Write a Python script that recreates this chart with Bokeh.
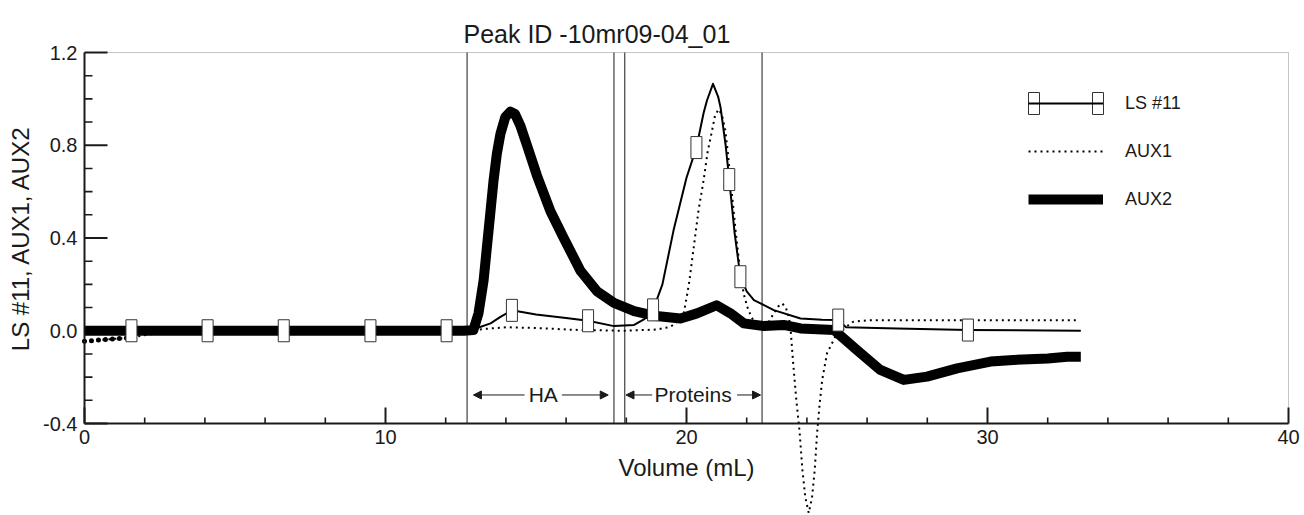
from bokeh.plotting import figure
from bokeh.models import (ColumnDataSource, CDSView, IndexFilter, FixedTicker, PrintfTickFormatter,
                          Arrow, NormalHead, Label, Legend, LegendItem, BoxAnnotation)
from bokeh.embed import file_html
from bokeh.resources import INLINE

# ---------------- data ----------------
title_text = "Peak ID -10mr09-04_01"
x_label = "Volume (mL)"
y_label = "LS #11, AUX1, AUX2"

x_limits = (0, 40)
y_limits = (-0.4, 1.2)
x_major = [0, 10, 20, 30, 40]
x_minor = [2, 4, 6, 8, 12, 14, 16, 18, 22, 24, 26, 28, 32, 34, 36, 38]
y_major = [-0.4, 0.0, 0.4, 0.8, 1.2]
y_minor = [-0.3, -0.2, -0.1, 0.1, 0.2, 0.3, 0.5, 0.6, 0.7, 0.9, 1.0, 1.1]

# LS #11 (thin line with box markers)
ls_x = [0.0, 12.7, 13.0, 13.49, 13.82, 14.2, 15.0, 16.0, 16.73, 17.59, 18.26, 18.6, 18.89, 19.2,
        19.57, 20.0, 20.33, 20.57, 20.68, 20.88, 21.05, 21.13, 21.3, 21.42, 21.6, 21.79, 22.0,
        22.24, 22.9, 23.79, 24.5, 25.04, 25.3, 27.0, 29.35, 33.1]
ls_y = [0.0, 0.0, 0.01, 0.032, 0.06, 0.088, 0.07, 0.055, 0.043, 0.02, 0.025, 0.05, 0.09, 0.2,
        0.433, 0.66, 0.79, 0.94, 0.993, 1.065, 1.01, 0.964, 0.8, 0.652, 0.42, 0.233, 0.17,
        0.132, 0.089, 0.053, 0.047, 0.046, 0.015, 0.01, 0.003, 0.0]
ls_box_x = [1.56, 4.09, 6.62, 9.5, 12.03, 14.2, 16.73, 18.89, 20.33, 21.42, 21.79, 25.04, 29.35]
ls_box_y = [0.0, 0.0, 0.0, 0.0, 0.0, 0.088, 0.043, 0.09, 0.79, 0.652, 0.233, 0.046, 0.003]

# AUX1 (dotted)
aux1_x = [0.0, 0.5, 1.0, 1.5, 2.2, 3.0, 4.0, 12.7, 13.3, 14.0, 15.0, 16.25, 17.9, 19.0, 19.47,
          19.7, 19.91, 20.08, 20.24, 20.4, 20.57, 20.7, 20.85, 20.95, 21.07, 21.18, 21.29, 21.38,
          21.46, 21.55, 21.63, 21.79, 21.9, 22.02, 22.15, 22.29, 22.51, 22.7, 22.9, 23.05, 23.18,
          23.3, 23.4, 23.46, 23.55, 23.65, 23.76, 23.85, 23.95, 24.06, 24.17, 24.26, 24.34,
          24.42, 24.51, 24.67, 25.0, 25.54, 26.0, 33.0]
aux1_y = [-0.045, -0.04, -0.035, -0.03, -0.015, -0.005, 0.0, 0.0, 0.008, 0.015, 0.012, 0.004,
          0.0, 0.005, 0.017, 0.04, 0.075, 0.2, 0.36, 0.52, 0.65, 0.77, 0.864, 0.93, 0.955, 0.93,
          0.864, 0.76, 0.65, 0.54, 0.433, 0.247, 0.16, 0.103, 0.06, 0.032, 0.01, 0.03, 0.075,
          0.105, 0.118, 0.1, 0.06, 0.003, -0.15, -0.3, -0.44, -0.6, -0.72, -0.786, -0.72, -0.6,
          -0.44, -0.32, -0.21, -0.097, -0.011, 0.039, 0.045, 0.045]

# AUX2 (thick line)
aux2_x = [0.0, 12.6, 12.92, 13.09, 13.26, 13.37, 13.48, 13.59, 13.7, 13.82, 13.98, 14.15, 14.3,
          14.48, 14.7, 15.03, 15.48, 15.92, 16.48, 17.03, 17.59, 18.26, 18.92, 19.8, 20.35, 21.0,
          21.46, 21.9, 22.57, 23.23, 23.79, 24.9, 25.66, 26.44, 27.22, 27.99, 28.99, 30.1,
          30.86, 32.0, 32.65, 33.1]
aux2_y = [0.0, 0.0, 0.003, 0.075, 0.218, 0.362, 0.505, 0.649, 0.764, 0.85, 0.921, 0.945, 0.935,
          0.885, 0.8, 0.67, 0.515, 0.4, 0.258, 0.17, 0.12, 0.085, 0.065, 0.053, 0.075, 0.11,
          0.075, 0.032, 0.02, 0.025, 0.01, 0.003, -0.083, -0.169, -0.212, -0.198, -0.162,
          -0.133, -0.126, -0.12, -0.112, -0.112]

# fraction boundaries and annotations
fraction_bounds = [12.71, 17.59, 17.95, 22.51]
region_labels = ["HA", "Proteins"]
region_label_x = [15.24, 20.22]
region_arrow_y = -0.277
arrow_tail_x = [14.62, 15.86, 18.86, 21.68]
arrow_head_x = [12.92, 17.40, 17.99, 22.46]

FONT = "Liberation Sans"
INK = "#1a1a1a"

# ---------------- layout ----------------
# The drawing area is the whole page; the axes sit at fixed places inside it so that the
# AUX1 dip below -0.4 and the edge tick labels are not clipped.
W, H = 1304, 515
LEFT, RIGHT, TOP, AXIS_Y = 84, 16, 52, 423          # pixel box of the drawn axes
ppx = (W - LEFT - RIGHT) / (x_limits[1] - x_limits[0])
ppy = (AXIS_Y - TOP) / (y_limits[1] - y_limits[0])
x_rng = (x_limits[0] - LEFT / ppx, x_limits[1] + RIGHT / ppx)
y_rng = (y_limits[0] - (H - AXIS_Y) / ppy, y_limits[1] + TOP / ppy)

p = figure(width=W, height=H, x_range=x_rng, y_range=y_rng,
           output_backend="svg", toolbar_location=None,
           min_border_left=0, min_border_right=0, min_border_top=0, min_border_bottom=0)
p.grid.visible = False
p.background_fill_color = "white"
p.border_fill_color = "white"
p.outline_line_color = None

for ax in (p.xaxis[0], p.yaxis[0]):
    ax.axis_line_width = 2
    ax.axis_line_color = INK
    ax.major_tick_line_color = None
    ax.minor_tick_line_color = None
    ax.major_tick_in = 0
    ax.major_tick_out = 0
    ax.minor_tick_in = 0
    ax.minor_tick_out = 0
    ax.major_label_text_font = FONT
    ax.major_label_text_font_size = "20px"
    ax.major_label_text_color = INK
    ax.axis_label_text_font = FONT
    ax.axis_label_text_font_size = "24px"
    ax.axis_label_text_font_style = "normal"
    ax.axis_label_text_color = INK

p.xaxis.fixed_location = y_limits[0]
p.xaxis.bounds = x_limits
p.xaxis.ticker = FixedTicker(ticks=x_major, minor_ticks=x_minor)
p.xaxis.major_label_standoff = 6
p.xaxis.axis_label = x_label
p.xaxis.axis_label_standoff = 7

p.yaxis.fixed_location = x_limits[0]
p.yaxis.bounds = y_limits
p.yaxis.ticker = FixedTicker(ticks=y_major, minor_ticks=y_minor)
p.yaxis.formatter = PrintfTickFormatter(format="%.1f")
p.yaxis.major_label_standoff = 7
p.yaxis.axis_label = y_label
p.yaxis.axis_label_standoff = 6

# title
p.add_layout(Label(x=LEFT + 379, y=H - 33, x_units="screen", y_units="screen", text=title_text,
                   text_font=FONT, text_font_size="25px", text_color=INK,
                   text_baseline="alphabetic", text_align="left"))

# dotted top / right border
p.segment(x0=[x_limits[0], x_limits[1]], y0=[y_limits[1], y_limits[0]],
          x1=[x_limits[1], x_limits[1]], y1=[y_limits[1], y_limits[1]],
          line_color="#8a8a8a", line_width=1, line_dash="1 1")

# inward tick marks, from the tick lists
def yticks(vals, length, width):
    p.segment(x0=[x_limits[0]] * len(vals), x1=[x_limits[0] + length / ppx] * len(vals),
              y0=vals, y1=vals, line_color=INK, line_width=width)

def xticks(vals, length, width):
    p.segment(x0=vals, x1=vals, y0=[y_limits[0]] * len(vals),
              y1=[y_limits[0] + length / ppy] * len(vals), line_color=INK, line_width=width)

yticks(y_major, 23, 2)
yticks(y_minor, 8, 1.6)
xticks(x_major, 16, 2)
xticks(x_minor, 6, 1.6)

# fraction boundary lines
p.segment(x0=fraction_bounds, x1=fraction_bounds, y0=[y_limits[0]] * len(fraction_bounds),
          y1=[y_limits[1]] * len(fraction_bounds), line_color=INK, line_width=1)

# series
aux2_src = ColumnDataSource(dict(x=aux2_x, y=aux2_y))
aux1_src = ColumnDataSource(dict(x=aux1_x, y=aux1_y))
ls_src = ColumnDataSource(dict(x=ls_x, y=ls_y))
box_src = ColumnDataSource(dict(x=ls_box_x, y=ls_box_y))

aux2_r = p.line("x", "y", source=aux2_src, line_color="black", line_width=10,
                line_join="round", line_cap="butt")
aux1_r = p.line("x", "y", source=aux1_src, line_color="black", line_width=2, line_dash="2 4")
start_idx = [i for i, v in enumerate(aux1_x) if v <= 1.5]
p.line("x", "y", source=aux1_src, view=CDSView(filter=IndexFilter(start_idx)),
       line_color="black", line_width=5, line_dash="0 7", line_cap="round")
dip_idx = [i for i, v in enumerate(aux1_x) if 23.4 <= v <= 24.7]
p.line("x", "y", source=aux1_src, view=CDSView(filter=IndexFilter(dip_idx)),
       line_color="#222222", line_width=2.5, line_dash="3 2")
ls_r = p.line("x", "y", source=ls_src, line_color="black", line_width=2, line_join="round")
tail_idx = [i for i, v in enumerate(ls_x) if v >= 25.04]
p.line("x", "y", source=ls_src, view=CDSView(filter=IndexFilter(tail_idx)),
       line_color="#111111", line_width=6)
p.rect("x", "y", source=box_src, width=11, height=22, width_units="screen",
       height_units="screen", fill_color="white", line_color="#333333", line_width=1)

# HA / Proteins annotations
for tx, hx in zip(arrow_tail_x, arrow_head_x):
    p.add_layout(Arrow(x_start=tx, y_start=region_arrow_y, x_end=hx, y_end=region_arrow_y,
                       line_color=INK, line_width=1,
                       end=NormalHead(size=8, fill_color=INK, line_color=INK, line_width=1)))
for txt, lx in zip(region_labels, region_label_x):
    p.add_layout(Label(x=lx, y=region_arrow_y, text=txt, text_align="center",
                       text_baseline="middle", text_font=FONT, text_font_size="21px",
                       text_color=INK))

# legend (screen position measured from the bottom-left of the drawing area)
GW, GH, SP = 75, 24, 24
LX, LY = 1028, H - 211
legend = Legend(items=[LegendItem(label="LS #11", renderers=[ls_r]),
                       LegendItem(label="AUX1", renderers=[aux1_r]),
                       LegendItem(label="AUX2", renderers=[aux2_r])],
                location=(LX, LY), glyph_width=GW, glyph_height=GH, label_height=GH,
                spacing=SP, label_standoff=22, padding=0, margin=0,
                border_line_color=None, background_fill_alpha=0,
                label_text_font=FONT, label_text_font_size="18px", label_text_color=INK)
p.add_layout(legend)
row_c = LY + 3 * GH + 2 * SP - GH / 2
for left in (LX, LX + GW - 11):
    p.add_layout(BoxAnnotation(left=left, right=left + 11, bottom=row_c - 11, top=row_c + 11,
                               left_units="screen", right_units="screen",
                               bottom_units="screen", top_units="screen",
                               fill_color="white", fill_alpha=1, line_color="#333333",
                               line_alpha=1, line_width=1, line_dash="solid"))

open("out.html", "w").write(file_html(p, INLINE))
